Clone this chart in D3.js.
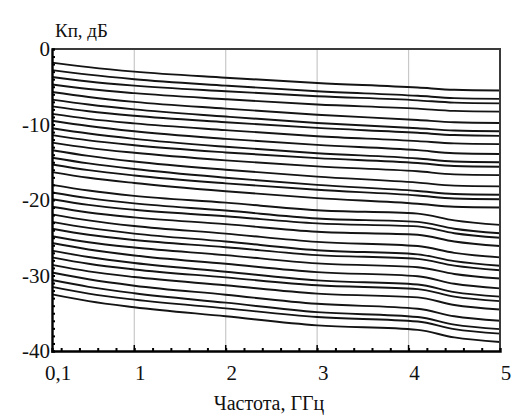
<!DOCTYPE html>
<html>
<head>
<meta charset="utf-8">
<script src="https://cdn.jsdelivr.net/npm/d3@7"></script>
<style>
    body { margin: 0; background: #fff; }
    svg text { font-family: "Liberation Serif", "DejaVu Serif", serif; fill: #111; }
</style>
</head>
<body>
<svg id="chart" width="517" height="416"></svg>
<script>
'use strict';

// frequency points, GHz
let freq = [0.1, 0.5, 1, 2, 3, 4.1, 4.5, 5];

// Kп, dB for every attenuator state, read at the frequency points above
let kpStates = [
    [-1.8, -2.4, -3.0, -3.8, -4.5, -5.1, -5.4, -5.5],
    [-2.8, -3.4, -4.0, -4.85, -5.6, -6.2, -6.5, -6.6],
    [-3.7, -4.3, -4.85, -5.6, -6.25, -6.8, -7.1, -7.2],
    [-4.7, -5.3, -5.85, -6.65, -7.35, -7.9, -8.2, -8.3],
    [-5.7, -6.35, -7.0, -7.9, -8.7, -9.4, -9.7, -9.8],
    [-6.7, -7.35, -8.0, -8.95, -9.8, -10.5, -10.8, -10.9],
    [-7.6, -8.25, -8.85, -9.7, -10.45, -11.1, -11.4, -11.5],
    [-8.6, -9.25, -9.85, -10.75, -11.55, -12.2, -12.5, -12.6],
    [-9.5, -10.2, -10.9, -11.9, -12.7, -13.4, -13.8, -13.9],
    [-10.5, -11.2, -11.9, -12.95, -13.8, -14.5, -14.9, -15.0],
    [-11.4, -12.1, -12.75, -13.7, -14.45, -15.1, -15.5, -15.6],
    [-12.4, -13.1, -13.75, -14.75, -15.55, -16.2, -16.6, -16.7],
    [-13.4, -14.15, -14.9, -16.0, -16.9, -17.7, -18.1, -18.2],
    [-14.4, -15.15, -15.9, -17.05, -18.0, -18.8, -19.2, -19.3],
    [-15.3, -16.05, -16.75, -17.8, -18.65, -19.4, -19.8, -19.9],
    [-16.3, -17.05, -17.75, -18.85, -19.75, -20.5, -20.9, -21.0],
    [-18.0, -18.75, -19.45, -20.35, -21.35, -21.8, -22.7, -23.3],
    [-19.0, -19.75, -20.45, -21.4, -22.45, -22.9, -23.8, -24.4],
    [-19.9, -20.65, -21.3, -22.15, -23.1, -23.5, -24.4, -25.0],
    [-20.9, -21.65, -22.3, -23.2, -24.2, -24.6, -25.5, -26.1],
    [-21.9, -22.7, -23.45, -24.45, -25.55, -26.1, -27.0, -27.6],
    [-22.9, -23.7, -24.45, -25.5, -26.65, -27.2, -28.1, -28.7],
    [-23.8, -24.6, -25.3, -26.25, -27.3, -27.8, -28.7, -29.3],
    [-24.8, -25.6, -26.3, -27.3, -28.4, -28.9, -29.8, -30.4],
    [-25.7, -26.55, -27.35, -28.45, -29.55, -30.1, -31.1, -31.7],
    [-26.7, -27.55, -28.35, -29.5, -30.65, -31.2, -32.2, -32.8],
    [-27.6, -28.45, -29.2, -30.25, -31.3, -31.8, -32.8, -33.4],
    [-28.6, -29.45, -30.2, -31.3, -32.4, -32.9, -33.9, -34.5],
    [-29.6, -30.5, -31.35, -32.55, -33.75, -34.4, -35.4, -36.0],
    [-30.6, -31.5, -32.35, -33.6, -34.85, -35.5, -36.5, -37.1],
    [-31.5, -32.4, -33.2, -34.35, -35.5, -36.1, -37.1, -37.7],
    [-32.5, -33.4, -34.2, -35.4, -36.6, -37.2, -38.2, -38.8]
];

let xTicks = [0.1, 1, 2, 3, 4, 5],
    xTickLabels = ["0,1", "1", "2", "3", "4", "5"],
    yTicks = [0, -10, -20, -30, -40],
    gridFreq = [1, 2, 3, 4];

let yTitle = "Кп, дБ",
    xTitle = "Частота, ГГц";

drawChart();

function drawChart() {
    let svg = d3.select("#chart");

    let x = d3.scaleLinear().domain([0.1, 5]).range([52, 500]),
        y = d3.scaleLinear().domain([-40, 0]).range([351, 49]);

    // vertical grid
    svg.append("g")
        .selectAll("line")
        .data(gridFreq)
        .enter().append("line")
        .attr("x1", function(d) { return x(d); })
        .attr("x2", function(d) { return x(d); })
        .attr("y1", y(0))
        .attr("y2", y(-40))
        .style("stroke", "#c8c8c8")
        .style("stroke-width", 1.2);

    // curves
    let line = d3.line()
        .x(function(d, i) { return x(freq[i]); })
        .y(function(d) { return y(d); })
        .curve(d3.curveMonotoneX);

    svg.append("g")
        .selectAll("path")
        .data(kpStates)
        .enter().append("path")
        .attr("d", line)
        .style("fill", "none")
        .style("stroke", "#141414")
        .style("stroke-width", 1.9);

    // frame top/right
    svg.append("path")
        .attr("d", "M" + x(0.1) + "," + y(0) + "H" + x(5) + "V" + y(-40))
        .style("fill", "none")
        .style("stroke", "#3a3a3a")
        .style("stroke-width", 2);

    // bottom axis
    let xAxis = d3.axisBottom(x)
        .tickValues(d3.range(0.2, 5, 0.2))
        .tickSize(-3)
        .tickFormat("");
    let gx = svg.append("g")
        .attr("transform", "translate(0," + y(-40) + ")")
        .call(xAxis);
    gx.select(".domain").style("stroke", "#000").style("stroke-width", 2.4);
    gx.selectAll(".tick line").style("stroke", "#000").style("stroke-width", 2);

    gx.selectAll(".major")
        .data(gridFreq)
        .enter().append("line")
        .attr("x1", function(d) { return x(d); })
        .attr("x2", function(d) { return x(d); })
        .attr("y1", 0)
        .attr("y2", -6)
        .style("stroke", "#000")
        .style("stroke-width", 1.5);

    gx.selectAll(".lbl")
        .data(xTicks)
        .enter().append("text")
        .attr("x", function(d) { return x(d) + 6; })
        .attr("y", 29)
        .attr("text-anchor", "middle")
        .style("font-size", "21px")
        .text(function(d, i) { return xTickLabels[i]; });

    // left axis
    let yAxis = d3.axisLeft(y)
        .tickValues(d3.range(-39, 0, 1))
        .tickSize(-3)
        .tickFormat("");
    let gy = svg.append("g")
        .attr("transform", "translate(" + x(0.1) + ",0)")
        .call(yAxis);
    gy.select(".domain").style("stroke", "#000").style("stroke-width", 2.4);
    gy.selectAll(".tick line").style("stroke", "#000").style("stroke-width", 2);

    gy.selectAll(".lbl")
        .data(yTicks)
        .enter().append("text")
        .attr("x", -2)
        .attr("y", function(d) { return y(d) + 7; })
        .attr("text-anchor", "end")
        .style("font-size", "21px")
        .text(function(d) { return d; });

    // titles
    svg.append("text")
        .attr("x", 55)
        .attr("y", 37)
        .style("font-size", "19px")
        .text(yTitle);

    svg.append("text")
        .attr("x", 269)
        .attr("y", 410)
        .attr("text-anchor", "middle")
        .style("font-size", "20px")
        .text(xTitle);
}
</script>
</body>
</html>
